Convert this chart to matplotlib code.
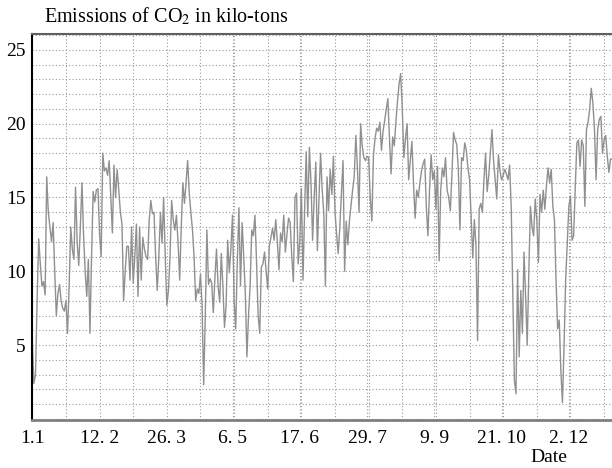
import numpy as np
import matplotlib
matplotlib.use('Agg')
import matplotlib.pyplot as plt
from matplotlib.ticker import MultipleLocator, FixedLocator

plt.rcParams['font.family'] = ['Liberation Serif', 'DejaVu Serif']
plt.rcParams['mathtext.fontset'] = 'stix'

# daily emissions, one value per day of the year
emissions = [
    5.2, 2.4, 3.0, 8.0, 12.2, 10.5, 9.0, 9.3, 8.4, 16.4,
    14.0, 13.0, 12.0, 13.3, 10.0, 7.0, 8.5, 9.1, 8.0, 7.5,
    7.3, 8.0, 5.8, 9.0, 13.0, 11.5, 10.8, 15.7, 12.0, 10.4,
    13.0, 16.0, 12.5, 10.0, 8.3, 10.8, 5.8, 11.0, 15.4, 14.7,
    15.5, 15.6, 12.5, 11.0, 18.0, 16.8, 17.0, 16.5, 17.5, 15.0,
    12.6, 17.2, 15.0, 16.9, 15.5, 14.0, 13.2, 8.0, 10.0, 11.7,
    11.7, 9.4, 13.0, 9.2, 11.0, 13.2, 8.3, 13.0, 9.4, 12.3,
    11.5, 11.0, 10.8, 13.5, 14.8, 13.9, 14.0, 11.0, 8.7, 11.0,
    14.0, 11.9, 15.0, 11.0, 7.7, 8.7, 11.0, 14.8, 13.5, 12.8,
    13.8, 12.0, 9.4, 13.0, 16.0, 14.6, 16.0, 17.5, 15.3, 14.0,
    12.8, 11.0, 8.0, 8.8, 8.5, 9.8, 7.7, 2.3, 7.0, 12.8,
    9.1, 9.5, 9.2, 7.2, 9.5, 11.5, 9.0, 7.9, 11.2, 9.0,
    6.2, 7.7, 12.1, 9.9, 11.5, 13.8, 8.0, 6.1, 10.7, 14.3,
    9.0, 13.3, 11.0, 8.5, 4.2, 7.0, 9.0, 12.8, 12.4, 13.8,
    10.7, 7.0, 5.8, 10.3, 10.5, 11.3, 10.0, 8.8, 11.7, 12.3,
    12.9, 12.1, 13.5, 12.0, 10.1, 12.6, 12.0, 13.8, 11.3, 12.5,
    13.6, 13.3, 11.0, 9.3, 15.0, 15.3, 10.5, 12.0, 15.6, 9.4,
    14.0, 18.1, 13.7, 18.4, 16.0, 12.1, 15.0, 17.4, 11.4, 15.0,
    18.0, 15.5, 13.9, 9.0, 16.4, 14.1, 16.9, 15.2, 17.8, 14.0,
    12.5, 11.2, 13.0, 15.2, 17.5, 10.0, 13.4, 11.8, 13.4, 14.5,
    15.5, 16.4, 19.2, 17.0, 14.0, 20.0, 18.5, 17.7, 17.5, 17.8,
    17.7, 15.0, 13.4, 17.9, 19.0, 19.7, 19.5, 20.1, 18.2, 19.5,
    20.2, 21.0, 21.7, 19.0, 16.6, 19.1, 18.5, 20.1, 21.5, 22.7,
    23.4, 21.0, 17.7, 19.0, 20.0, 16.2, 17.5, 18.8, 16.0, 13.6,
    15.5, 15.0, 16.0, 16.8, 17.3, 17.6, 14.4, 12.4, 15.5, 17.9,
    16.2, 16.8, 14.2, 17.1, 10.7, 15.5, 17.0, 16.4, 17.7, 15.5,
    15.0, 14.1, 16.6, 19.4, 18.9, 18.6, 16.9, 12.8, 17.7, 17.5,
    18.7, 18.2, 17.0, 16.2, 13.7, 10.9, 13.5, 11.7, 5.3, 14.2,
    14.6, 14.0, 16.2, 18.0, 15.4, 16.5, 18.0, 19.6, 17.5, 16.2,
    14.9, 17.9, 16.8, 16.2, 16.5, 16.9, 16.6, 16.2, 17.2, 14.4,
    8.5, 2.6, 1.7, 10.1, 4.2, 8.7, 5.8, 11.3, 8.3, 5.0,
    9.9, 14.4, 13.0, 12.4, 14.9, 13.5, 10.6, 15.2, 14.0, 15.5,
    14.2, 15.8, 17.0, 16.0, 16.9, 14.4, 13.5, 9.4, 6.1, 6.7,
    3.3, 1.1, 4.9, 9.4, 11.9, 14.4, 15.1, 12.1, 12.4, 15.7,
    18.7, 18.9, 17.1, 18.9, 18.5, 14.4, 19.6, 20.1, 21.0, 22.4,
    21.4, 19.6, 16.2, 19.6, 20.3, 20.5, 18.0, 18.9, 19.2, 17.8,
    16.7, 17.6, 17.6, 17.4, 17.8,
]
days = np.arange(len(emissions))

tick_days = [0, 42, 84, 125, 167, 209, 251, 293, 335]
tick_labels = ['1.1', '12. 2', '26. 3', '6. 5', '17. 6', '29. 7', '9. 9', '21. 10', '2. 12']

fig = plt.figure(figsize=(6.12, 4.68), dpi=100)
ax = fig.add_axes([32.3 / 612, 48 / 468, 583 / 612, 386 / 468])

ax.plot(days, emissions, color='#909090', linewidth=1.0)

ax.set_xlim(0, 364)
ax.set_ylim(-0.08, 26.08)

ax.xaxis.set_major_locator(FixedLocator(tick_days))
ax.set_xticklabels(tick_labels)
ax.xaxis.set_minor_locator(FixedLocator(np.arange(21, 364, 21)))
ax.yaxis.set_major_locator(FixedLocator([5, 10, 15, 20, 25]))
ax.yaxis.set_minor_locator(MultipleLocator(1))

ax.grid(True, which='both', color='#9a9a9a', linestyle=(0, (1, 2)), linewidth=0.8)
ax.set_axisbelow(True)
ax.tick_params(which='both', length=0, labelsize=14, colors='black')
ax.tick_params(axis='x', pad=7)
ax.tick_params(axis='y', pad=5)

ax.spines['left'].set_color('black')
ax.spines['left'].set_linewidth(1.5)
ax.spines['bottom'].set_color('#808080')
ax.spines['bottom'].set_linewidth(2)
ax.spines['top'].set_color('#606060')
ax.spines['top'].set_linewidth(1.5)
ax.spines['right'].set_visible(False)

fig.text(44 / 612, 1 - 16 / 468, r'Emissions of CO$_\mathrm{2}$ in kilo-tons',
         ha='left', va='center', fontsize=14.5)
fig.text(549 / 612, 1 - 458 / 468, 'Date', ha='center', va='center', fontsize=14)

fig.savefig('out.png', dpi=100)
